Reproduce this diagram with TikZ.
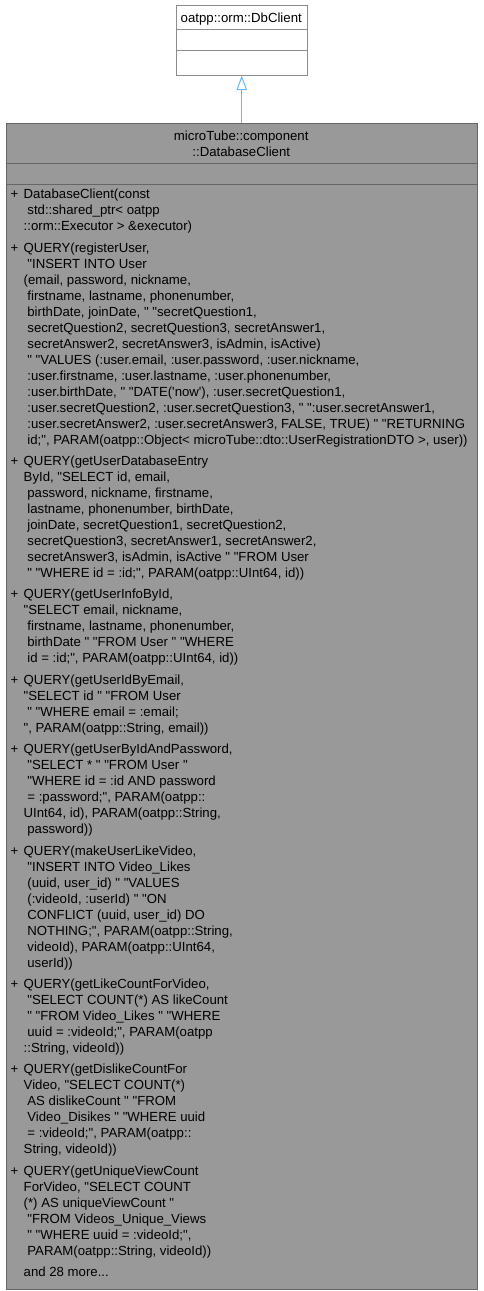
\documentclass[tikz,border=0pt]{standalone}
\usepackage{xcolor}
\usepackage{fontspec}
\setmainfont{Liberation Sans}[Ligatures=TeXOff]
\usepackage{tikz}
\usetikzlibrary{arrows.meta}
\definecolor{edgeblue}{HTML}{63B8FF}
\definecolor{boxgray}{HTML}{999999}
\definecolor{linegray}{HTML}{666666}
\definecolor{framegray}{HTML}{8C8C8C}
\newcommand{\memberfont}{\fontsize{13.2}{16}\selectfont}
\newcommand{\mstrut}{\rule{0pt}{12pt}}
\newcommand{\lsp}{\hspace*{3.7pt}}
\tikzstyle{basebox}=[draw=framegray,fill=white,line width=1pt,inner sep=0pt,anchor=north west]
\tikzstyle{classbox}=[draw=linegray,fill=boxgray,line width=1pt,inner sep=0pt,anchor=north west]
\tikzstyle{title}=[inner sep=0pt,align=center,anchor=north,font=\memberfont]
\tikzstyle{member}=[inner sep=0pt,align=left,anchor=north west,font=\memberfont]
\tikzstyle{plus}=[inner sep=0pt,anchor=north west,font=\memberfont]
\tikzstyle{inherit}=[draw=edgeblue,line width=1pt,-{Triangle[open,length=14.5pt,width=10.5pt]}]

\begin{document}
\begin{tikzpicture}[x=1pt,y=-1pt]
\useasboundingbox (0,0) rectangle (483,1291);

\node[basebox, minimum width=131.5pt, minimum height=69.5pt] (a) at (175.5,5) {};
\node[classbox, minimum width=471.5pt, minimum height=1166pt] (b) at (5.5,122.5) {};

\draw[framegray, line width=1pt] (175.5,29) -- (307,29) (175.5,50.7) -- (307,50.7);
\draw[linegray, line width=1pt] (5.5,163) -- (477,163) (5.5,184) -- (477,184);

\node[title] (at) at (241.25,10.5) {\mstrut oatpp::orm::DbClient};
\node[title] (bt) at (241.25,128.5) {\mstrut microTube::component\\::DatabaseClient};

\draw[inherit] (b.north) -- (a.south);

\node[plus] (p1) at (10.5,186.5) {\mstrut+};
\node[member] (m1) at (23.5,186.5) {\mstrut DatabaseClient(const\\
\lsp std::shared\_ptr< oatpp\\
::orm::Executor > \&executor)};

\node[plus] (p2) at (10.5,239.9) {\mstrut+};
\node[member] (m2) at (23.5,239.9) {\mstrut QUERY(registerUser,\\
\lsp "INSERT INTO User\\
(email, password, nickname,\\
\lsp firstname, lastname, phonenumber,\\
\lsp birthDate, joinDate, " "secretQuestion1,\\
\lsp secretQuestion2, secretQuestion3, secretAnswer1,\\
\lsp secretAnswer2, secretAnswer3, isAdmin, isActive)\\
\lsp " "VALUES (:user.email, :user.password, :user.nickname,\\
\lsp :user.firstname, :user.lastname, :user.phonenumber,\\
\lsp :user.birthDate, " "DATE('now'), :user.secretQuestion1,\\
\lsp :user.secretQuestion2, :user.secretQuestion3, " ":user.secretAnswer1,\\
\lsp :user.secretAnswer2, :user.secretAnswer3, FALSE, TRUE) " "RETURNING\\
\lsp id;", PARAM(oatpp::Object< microTube::dto::UserRegistrationDTO >, user))};

\node[plus] (p3) at (10.5,453.3) {\mstrut+};
\node[member] (m3) at (23.5,453.3) {\mstrut QUERY(getUserDatabaseEntry\\
ById, "SELECT id, email,\\
\lsp password, nickname, firstname,\\
\lsp lastname, phonenumber, birthDate,\\
\lsp joinDate, secretQuestion1, secretQuestion2,\\
\lsp secretQuestion3, secretAnswer1, secretAnswer2,\\
\lsp secretAnswer3, isAdmin, isActive " "FROM User\\
\lsp " "WHERE id = :id;", PARAM(oatpp::UInt64, id))};

\node[plus] (p4) at (10.5,586.7) {\mstrut+};
\node[member] (m4) at (23.5,586.7) {\mstrut QUERY(getUserInfoById,\\
"SELECT email, nickname,\\
\lsp firstname, lastname, phonenumber,\\
\lsp birthDate " "FROM User " "WHERE\\
\lsp id = :id;", PARAM(oatpp::UInt64, id))};

\node[plus] (p5) at (10.5,672.1) {\mstrut+};
\node[member] (m5) at (23.5,672.1) {\mstrut QUERY(getUserIdByEmail,\\
"SELECT id " "FROM User\\
\lsp " "WHERE email = :email;\\
", PARAM(oatpp::String, email))};

\node[plus] (p6) at (10.5,741.5) {\mstrut+};
\node[member] (m6) at (23.5,741.5) {\mstrut QUERY(getUserByIdAndPassword,\\
\lsp "SELECT * " "FROM User "\\
\lsp "WHERE id = :id AND password\\
\lsp = :password;", PARAM(oatpp::\\
UInt64, id), PARAM(oatpp::String,\\
\lsp password))};

\node[plus] (p7) at (10.5,842.9) {\mstrut+};
\node[member] (m7) at (23.5,842.9) {\mstrut QUERY(makeUserLikeVideo,\\
\lsp "INSERT INTO Video\_Likes\\
\lsp (uuid, user\_id) " "VALUES\\
\lsp (:videoId, :userId) " "ON\\
\lsp CONFLICT (uuid, user\_id) DO\\
\lsp NOTHING;", PARAM(oatpp::String,\\
\lsp videoId), PARAM(oatpp::UInt64,\\
\lsp userId))};

\node[plus] (p8) at (10.5,976.3) {\mstrut+};
\node[member] (m8) at (23.5,976.3) {\mstrut QUERY(getLikeCountForVideo,\\
\lsp "SELECT COUNT(*) AS likeCount\\
\lsp " "FROM Video\_Likes " "WHERE\\
\lsp uuid = :videoId;", PARAM(oatpp\\
::String, videoId))};

\node[plus] (p9) at (10.5,1061.7) {\mstrut+};
\node[member] (m9) at (23.5,1061.7) {\mstrut QUERY(getDislikeCountFor\\
Video, "SELECT COUNT(*)\\
\lsp AS dislikeCount " "FROM\\
\lsp Video\_Disikes " "WHERE uuid\\
\lsp = :videoId;", PARAM(oatpp::\\
String, videoId))};

\node[plus] (p10) at (10.5,1163.1) {\mstrut+};
\node[member] (m10) at (23.5,1163.1) {\mstrut QUERY(getUniqueViewCount\\
ForVideo, "SELECT COUNT\\
(*) AS uniqueViewCount "\\
\lsp "FROM Videos\_Unique\_Views\\
\lsp " "WHERE uuid = :videoId;",\\
\lsp PARAM(oatpp::String, videoId))};

\node[member] (m11) at (23.5,1264.5) {\mstrut and 28 more...};

\end{tikzpicture}
\end{document}
